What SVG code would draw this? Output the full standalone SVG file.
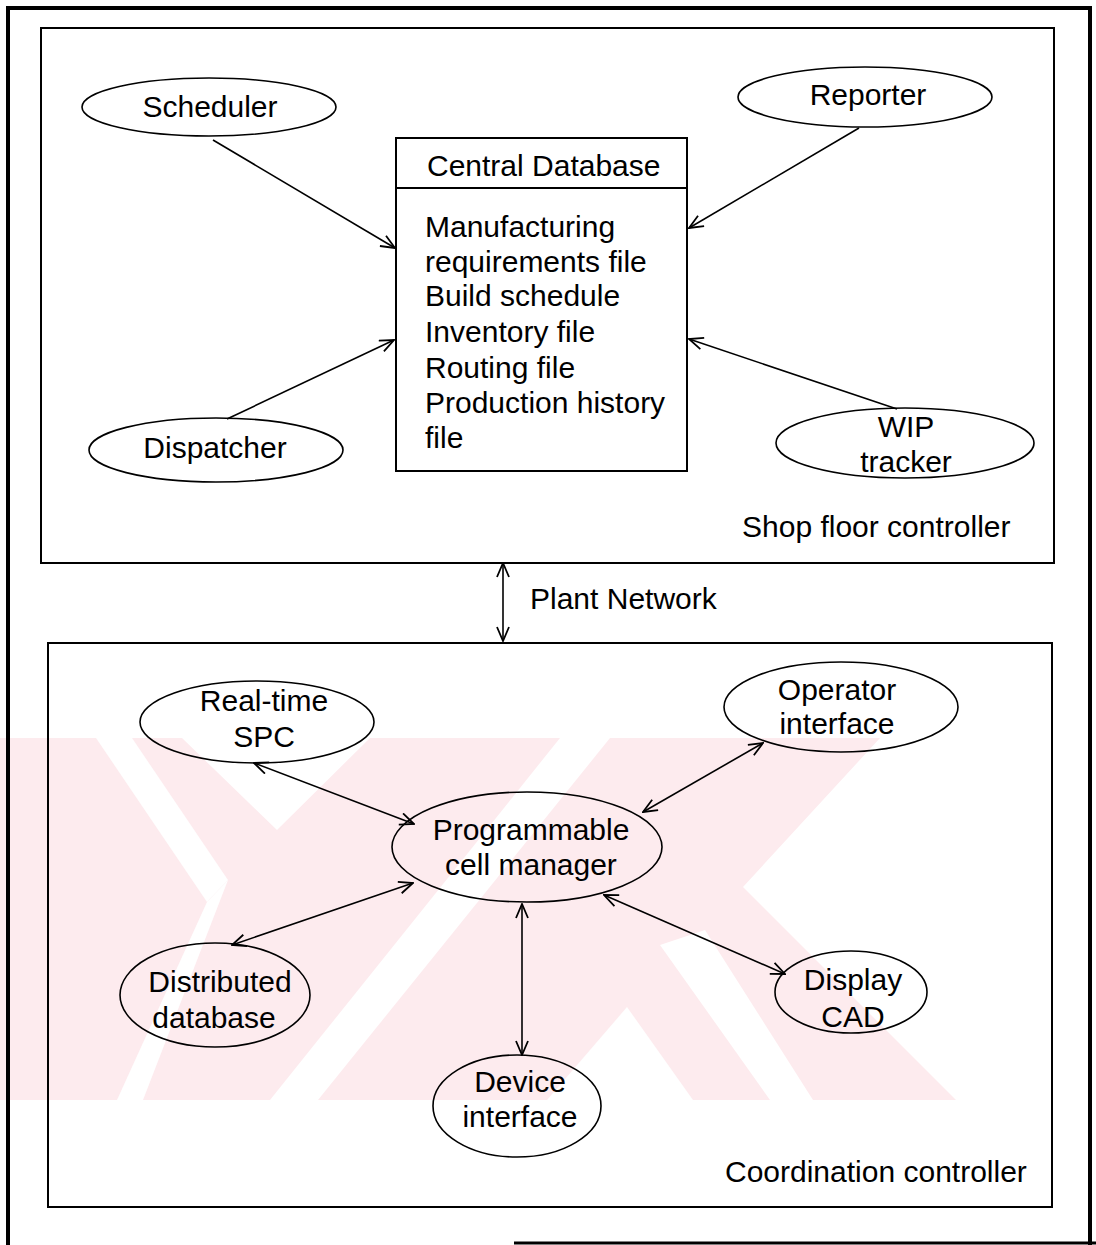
<svg xmlns="http://www.w3.org/2000/svg" width="1096" height="1245" viewBox="0 0 1096 1245">
<defs>
<style>
.frame{fill:none;stroke:#000;stroke-width:4}
.box{fill:none;stroke:#000;stroke-width:2}
.node{fill:none;stroke:#000;stroke-width:1.6}
.lbl{font-family:"Liberation Sans",Arial,sans-serif;font-size:30px;fill:#000}
.mid{text-anchor:middle}
.conn line{stroke:#000;stroke-width:1.6;fill:none}
.wm{fill:#fdebee}
.wh{fill:#fff}
</style>
<marker id="ah" viewBox="0 0 16 14" refX="15" refY="7" markerWidth="16" markerHeight="14" markerUnits="userSpaceOnUse" orient="auto-start-reverse">
<path d="M1,1 L15,7 L1,13" fill="none" stroke="#000" stroke-width="1.8"/>
</marker>
</defs>
<rect width="1096" height="1245" fill="#fff"/>
<g id="watermark">
<polygon class="wm" points="0,738 880,738 743,887 956,1100 0,1100"/>
<polygon class="wh" points="96,738 132,738 228,880 207,902"/>
<polygon class="wh" points="182,738 370,738 277,830"/>
<polygon class="wh" points="207,902 228,880 143,1100 117,1100"/>
<polygon class="wh" points="560,738 610,738 318,1100 270,1100"/>
<polygon class="wh" points="547,1100 627,1007 693,1100"/>
<polygon class="wh" points="660,945 705,930 813,1100 770,1100"/>
</g>
<g id="frame">
<line class="frame" x1="8" y1="8" x2="1090" y2="8"/>
<line class="frame" x1="8" y1="6" x2="8" y2="1245"/>
<line class="frame" x1="1090" y1="6" x2="1090" y2="1245"/>
<line x1="514" y1="1243" x2="1096" y2="1243" stroke="#000" stroke-width="3"/>
</g>
<g id="shop-floor-controller">
<rect class="box" x="41" y="28" width="1013" height="535"/>
<text class="lbl" x="742" y="537">Shop floor controller</text>
</g>
<g id="coordination-controller">
<rect class="box" x="48" y="643" width="1004" height="564"/>
<text class="lbl" x="725" y="1182">Coordination controller</text>
</g>
<g id="central-database">
<rect class="box" x="396" y="138" width="291" height="333"/>
<line class="box" x1="396" y1="188" x2="687" y2="188"/>
<text class="lbl" x="427" y="176">Central Database</text>
<text class="lbl" x="425" y="237">Manufacturing</text>
<text class="lbl" x="425" y="272">requirements file</text>
<text class="lbl" x="425" y="306">Build schedule</text>
<text class="lbl" x="425" y="342">Inventory file</text>
<text class="lbl" x="425" y="378">Routing file</text>
<text class="lbl" x="425" y="413">Production history</text>
<text class="lbl" x="425" y="448">file</text>
</g>
<g id="scheduler">
<ellipse class="node" cx="209" cy="107" rx="127" ry="29"/>
<text class="lbl mid" x="210" y="117">Scheduler</text>
</g>
<g id="reporter">
<ellipse class="node" cx="865" cy="97" rx="127" ry="30"/>
<text class="lbl mid" x="868" y="105">Reporter</text>
</g>
<g id="dispatcher">
<ellipse class="node" cx="216" cy="450" rx="127" ry="32"/>
<text class="lbl mid" x="215" y="458">Dispatcher</text>
</g>
<g id="wip-tracker">
<ellipse class="node" cx="905" cy="443" rx="129" ry="35"/>
<text class="lbl mid" x="906" y="437">WIP</text>
<text class="lbl mid" x="906" y="472">tracker</text>
</g>
<g id="plant-network">
<text class="lbl" x="530" y="609">Plant Network</text>
</g>
<g id="realtime-spc">
<ellipse class="node" cx="257" cy="722" rx="117" ry="41"/>
<text class="lbl mid" x="264" y="711">Real-time</text>
<text class="lbl mid" x="264" y="747">SPC</text>
</g>
<g id="operator-interface">
<ellipse class="node" cx="841" cy="707" rx="117" ry="45"/>
<text class="lbl mid" x="837" y="700">Operator</text>
<text class="lbl mid" x="837" y="734">interface</text>
</g>
<g id="programmable-cell-manager">
<ellipse class="node" cx="527" cy="847" rx="135" ry="55"/>
<text class="lbl mid" x="531" y="840">Programmable</text>
<text class="lbl mid" x="531" y="875">cell manager</text>
</g>
<g id="distributed-database">
<ellipse class="node" cx="215" cy="995" rx="95" ry="52"/>
<text class="lbl mid" x="220" y="992">Distributed</text>
<text class="lbl mid" x="214" y="1028">database</text>
</g>
<g id="display-cad">
<ellipse class="node" cx="851" cy="992" rx="76" ry="41"/>
<text class="lbl mid" x="853" y="990">Display</text>
<text class="lbl mid" x="853" y="1027">CAD</text>
</g>
<g id="device-interface">
<ellipse class="node" cx="517" cy="1106" rx="84" ry="51"/>
<text class="lbl mid" x="520" y="1092">Device</text>
<text class="lbl mid" x="520" y="1127">interface</text>
</g>
<g id="connectors" class="conn">
<line x1="213" y1="140" x2="395" y2="248" marker-end="url(#ah)"/>
<line x1="859" y1="128" x2="689" y2="228" marker-end="url(#ah)"/>
<line x1="227" y1="419" x2="394" y2="340" marker-end="url(#ah)"/>
<line x1="897" y1="409" x2="689" y2="339" marker-end="url(#ah)"/>
<line x1="503" y1="563" x2="503" y2="641" marker-start="url(#ah)" marker-end="url(#ah)"/>
<line x1="254" y1="763" x2="414" y2="824" marker-start="url(#ah)" marker-end="url(#ah)"/>
<line x1="763" y1="743" x2="643" y2="812" marker-start="url(#ah)" marker-end="url(#ah)"/>
<line x1="413" y1="883" x2="232" y2="945" marker-start="url(#ah)" marker-end="url(#ah)"/>
<line x1="522" y1="904" x2="522" y2="1055" marker-start="url(#ah)" marker-end="url(#ah)"/>
<line x1="604" y1="895" x2="785" y2="974" marker-start="url(#ah)" marker-end="url(#ah)"/>
</g>
</svg>
